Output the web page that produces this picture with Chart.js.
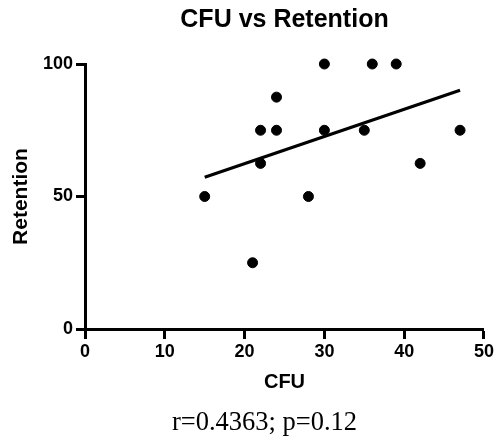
<!DOCTYPE html>
<html>
<head>
<meta charset="utf-8">
<script src="https://cdn.jsdelivr.net/npm/chart.js@4/dist/chart.umd.min.js"></script>
<style>
  html, body { margin: 0; padding: 0; background: #fff; }
  #wrap { width: 496px; height: 436px; }
</style>
</head>
<body>
<div id="wrap"><canvas id="c" width="496" height="436"></canvas></div>
<script>
// Data
const cfu       = [15, 21, 22, 22, 24, 24, 28, 30, 30, 35, 36, 39, 42, 47];
const retention = [50, 25, 62.5, 75, 87.5, 75, 50, 100, 75, 75, 100, 100, 62.5, 75];
const fitX = [15, 47];
const fitY = [57.3, 90.1];
const xTicks = [0, 10, 20, 30, 40, 50];
const yTicks = [0, 50, 100];
const titleText = 'CFU vs Retention';
const xTitle = 'CFU';
const yTitle = 'Retention';
const footerText = 'r=0.4363; p=0.12';

const SANS = "'Liberation Sans', Arial, Helvetica, sans-serif";
const SERIF = "'Liberation Serif', 'Times New Roman', serif";

const footerPlugin = {
  id: 'footerText',
  afterDraw(chart) {
    const ctx = chart.ctx;
    ctx.save();
    ctx.font = '26.5px ' + SERIF;
    ctx.fillStyle = '#000';
    ctx.textAlign = 'center';
    ctx.textBaseline = 'alphabetic';
    ctx.fillText(footerText, 264.5, 430);
    ctx.restore();
  }
};

new Chart(document.getElementById('c'), {
  type: 'scatter',
  data: {
    datasets: [
      {
        label: 'Fit',
        type: 'line',
        data: fitX.map((x, i) => ({ x: x, y: fitY[i] })),
        borderColor: '#000',
        borderWidth: 3.2,
        pointRadius: 0,
        fill: false,
        tension: 0,
        clip: false,
        order: 2
      },
      {
        label: 'Data',
        data: cfu.map((x, i) => ({ x: x, y: retention[i] })),
        backgroundColor: '#000',
        borderColor: '#000',
        pointRadius: 5,
        pointHoverRadius: 5,
        clip: false,
        order: 1
      }
    ]
  },
  options: {
    responsive: false,
    animation: false,
    events: [],
    layout: { padding: { left: 0, right: 11, top: 0, bottom: 42 } },
    plugins: {
      legend: { display: false },
      tooltip: { enabled: false },
      title: {
        display: true,
        text: titleText,
        fullSize: false,
        color: '#000',
        font: { family: SANS, size: 25, weight: 'bold' },
        padding: { top: 5.3, bottom: 28.7 }
      }
    },
    scales: {
      x: {
        type: 'linear',
        min: 0, max: 50,
        afterBuildTicks(scale) { scale.ticks = xTicks.map(v => ({ value: v })); },
        afterFit(scale) { scale.height = 65; },
        ticks: {
          color: '#000',
          font: { family: SANS, size: 18, weight: 'bold' },
          padding: 2,
          maxRotation: 0
        },
        grid: {
          drawOnChartArea: false,
          drawTicks: true,
          tickLength: 10,
          tickWidth: 3,
          tickColor: '#000'
        },
        border: { display: true, color: '#000', width: 3 },
        title: {
          display: true,
          text: xTitle,
          color: '#000',
          font: { family: SANS, size: 20, weight: 'bold' },
          padding: { top: 0, bottom: 0 }
        }
      },
      y: {
        type: 'linear',
        min: 0, max: 100,
        afterBuildTicks(scale) { scale.ticks = yTicks.map(v => ({ value: v })); },
        afterFit(scale) { scale.width = 85; },
        ticks: {
          color: '#000',
          font: { family: SANS, size: 18, weight: 'bold' },
          padding: 3
        },
        grid: {
          drawOnChartArea: false,
          drawTicks: true,
          tickLength: 9,
          tickWidth: 3,
          tickColor: '#000'
        },
        border: { display: true, color: '#000', width: 3 },
        title: {
          display: true,
          text: yTitle,
          color: '#000',
          font: { family: SANS, size: 21, weight: 'bold' },
          padding: { top: 9, bottom: 0 }
        }
      }
    }
  },
  plugins: [footerPlugin]
});
</script>
</body>
</html>
